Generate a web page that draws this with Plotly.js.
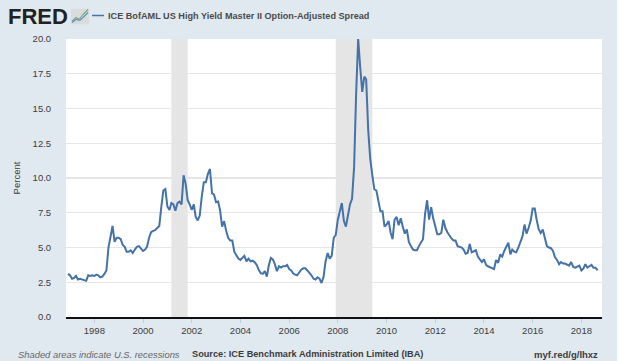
<!DOCTYPE html>
<html>
<head>
<meta charset="utf-8">
<script src="https://cdn.plot.ly/plotly-3.0.1.min.js"></script>
<style>html,body{margin:0;padding:0;background:#fff;overflow:hidden}#c{width:617px;height:361px}</style>
</head>
<body>
<div id="c"></div>
<script>
const seriesName = 'ICE BofAML US High Yield Master II Option-Adjusted Spread';
const startYear = 1996, startMonth = 12;
const v1996 = [3.1];
const v1997 = [3.0,2.75,2.8,2.95,2.7,2.75,2.7,2.65,2.6,3.0,2.95,3.0];
const v1998 = [2.95,3.05,3.0,2.85,2.9,3.1,3.35,5.0,5.8,6.55,5.4,5.7];
const v1999 = [5.7,5.6,5.2,5.05,4.7,4.7,4.8,4.6,4.85,5.05,5.1,4.9];
const v2000 = [4.75,4.85,5.05,5.7,6.1,6.2,6.25,6.4,6.55,7.9,9.1,9.2];
const v2001 = [7.95,7.7,8.2,8.1,7.65,8.2,8.3,8.1,10.2,9.6,8.4,8.1];
const v2002 = [7.7,8.1,7.2,6.95,7.3,8.7,9.7,9.7,10.3,10.65,8.9,8.8];
const v2003 = [8.25,8.3,7.7,6.5,6.9,6.2,5.7,5.5,5.5,4.7,4.4,4.2];
const v2004 = [4.1,4.3,4.4,4.0,4.2,4.0,4.05,3.95,3.75,3.4,3.15,3.1];
const v2005 = [3.3,2.9,3.7,4.25,4.15,3.8,3.3,3.65,3.55,3.65,3.65,3.75];
const v2006 = [3.45,3.35,3.15,3.05,3.0,3.2,3.4,3.5,3.5,3.35,3.2,3.0];
const v2007 = [2.75,2.7,2.85,2.75,2.45,2.9,4.0,4.6,4.2,4.4,5.7,5.9];
const v2008 = [7.0,7.7,8.2,6.9,6.5,7.3,8.1,8.5,10.8,16.0,20.0,18.0];
const v2009 = [16.2,17.3,17.1,13.4,11.4,10.2,9.2,9.1,8.2,7.6,7.6,6.5];
const v2010 = [6.65,6.9,6.1,5.6,7.0,7.2,6.6,7.1,6.5,6.0,6.3,5.4];
const v2011 = [5.1,4.85,4.8,4.8,5.1,5.4,5.6,7.4,8.4,7.0,7.9,7.1];
const v2012 = [6.4,5.95,5.95,6.05,7.0,6.4,6.1,5.85,5.65,5.5,5.5,5.1];
const v2013 = [5.05,5.0,4.85,4.55,4.6,5.25,4.65,4.75,4.8,4.35,4.1,3.95];
const v2014 = [4.15,3.75,3.65,3.6,3.55,3.45,4.1,3.9,4.5,4.35,4.75,5.1];
const v2015 = [5.35,4.5,4.85,4.7,4.65,5.0,5.35,5.8,6.65,6.0,6.4,6.9];
const v2016 = [7.8,7.8,7.0,6.3,6.05,6.3,5.7,5.1,5.0,4.95,4.75,4.3];
const v2017 = [4.1,3.8,3.95,3.85,3.85,3.8,3.7,3.95,3.6,3.55,3.65,3.7];
const v2018 = [3.35,3.5,3.8,3.55,3.65,3.75,3.55,3.55,3.35];
const recessionStarts = ['2001-03-01','2007-12-01'];
const recessionEnds = ['2001-11-01','2009-06-01'];
const yTicks = [0,2.5,5,7.5,10,12.5,15,17.5,20];

const values = [].concat(v1996,v1997,v1998,v1999,v2000,v2001,v2002,v2003,v2004,v2005,v2006,v2007,v2008,v2009,v2010,v2011,v2012,v2013,v2014,v2015,v2016,v2017,v2018);
const dates = values.map((_, i) => {
  const m = startMonth - 1 + i;
  const y = startYear + Math.floor(m / 12);
  return y + '-' + String(m % 12 + 1).padStart(2, '0') + '-01';
});

const W = 617, H = 361, L = 66, R = 15, T = 39, B = 44;
const px = x => (x - L) / (W - L - R);
const py = y => (H - B - y) / (H - T - B);
const bg = '#e1e9f0';
const textFont = {family: '"Liberation Sans", Arial, sans-serif', size: 9.5, color: '#3c3c3c'};

const logoSvg = '<svg xmlns="http://www.w3.org/2000/svg" width="18" height="16">' +
  '<rect width="18" height="16" rx="1" fill="#d9dcda"/>' +
  '<polyline points="1,13 5,9 8,11 12,6 17,1" fill="none" stroke="#6fa878" stroke-width="1.1"/>' +
  '<polyline points="1,14 5,11 9,12 13,8 17,4" fill="none" stroke="#5f8fc0" stroke-width="1.1"/></svg>';

const shapes = recessionStarts.map((s, i) => ({
  type: 'rect', xref: 'x', yref: 'paper', x0: s, x1: recessionEnds[i], y0: 0, y1: 1,
  fillcolor: '#e5e5e5', line: {width: 0}, layer: 'below'
}));
shapes.push({type: 'line', xref: 'paper', yref: 'paper', x0: px(92), x1: px(104), y0: py(15.5), y1: py(15.5),
  line: {color: '#4572a7', width: 1.5}});

const note = (text, x, y, anchor, font) => ({
  text, xref: 'paper', yref: 'paper', x: px(x), y: py(y), xanchor: anchor, yanchor: 'middle',
  showarrow: false, font: Object.assign({}, textFont, font || {}), borderpad: 0, borderwidth: 0
});

Plotly.newPlot('c', [{
  x: dates, y: values, type: 'scatter', mode: 'lines', name: seriesName,
  line: {color: '#4572a7', width: 2}, hoverinfo: 'x+y'
}], {
  width: W, height: H,
  margin: {l: L, r: R, t: T, b: B, pad: 0},
  paper_bgcolor: bg, plot_bgcolor: '#ffffff',
  showlegend: false,
  xaxis: {
    type: 'date', range: ['1996-11-02', '2018-11-06'],
    tickmode: 'array',
    tickvals: ['1998-01-01','2000-01-01','2002-01-01','2004-01-01','2006-01-01','2008-01-01','2010-01-01','2012-01-01','2014-01-01','2016-01-01','2018-01-01'],
    ticktext: ['1998','2000','2002','2004','2006','2008','2010','2012','2014','2016','2018'],
    ticks: 'outside', ticklen: 4, tickwidth: 1, tickcolor: '#c0cbe0',
    showgrid: false, zeroline: false, showline: true, linecolor: '#111111', linewidth: 1.5,
    tickfont: textFont, automargin: false
  },
  yaxis: {
    range: [0, 20], tickmode: 'array', tickvals: yTicks, tickformat: '.1f',
    ticks: 'outside', ticklen: 12, tickcolor: bg,
    showgrid: true, gridcolor: '#e6e6e6', gridwidth: 1.2, zeroline: false, showline: false,
    tickfont: textFont, automargin: false,
    title: {text: 'Percent', font: textFont, standoff: 10}
  },
  shapes,
  images: [{
    source: 'data:image/svg+xml;utf8,' + encodeURIComponent(logoSvg),
    xref: 'paper', yref: 'paper', x: px(71), y: py(8.5), sizex: 18 / (W - L - R), sizey: 16 / (H - T - B),
    xanchor: 'left', yanchor: 'top', sizing: 'stretch', layer: 'above'
  }],
  annotations: [
    note('<b>FRED</b>', 7.5, 16.5, 'left', {size: 22, color: '#222222'}),
    note('<b>' + seriesName + '</b>', 108, 15.5, 'left', {size: 9.15, color: '#4a4a4a'}),
    note('<i>Shaded areas indicate U.S. recessions</i>', 18, 354, 'left', {size: 9.4, color: '#666666'}),
    note('<b>Source: ICE Benchmark Administration Limited (IBA)</b>', 192, 354, 'left', {size: 9.2, color: '#3c3c3c'}),
    note('<b>myf.red/g/lhxz</b>', 598, 354, 'right', {size: 9.5, color: '#3c3c3c'})
  ]
}, {staticPlot: true, displayModeBar: false});
</script>
</body>
</html>
